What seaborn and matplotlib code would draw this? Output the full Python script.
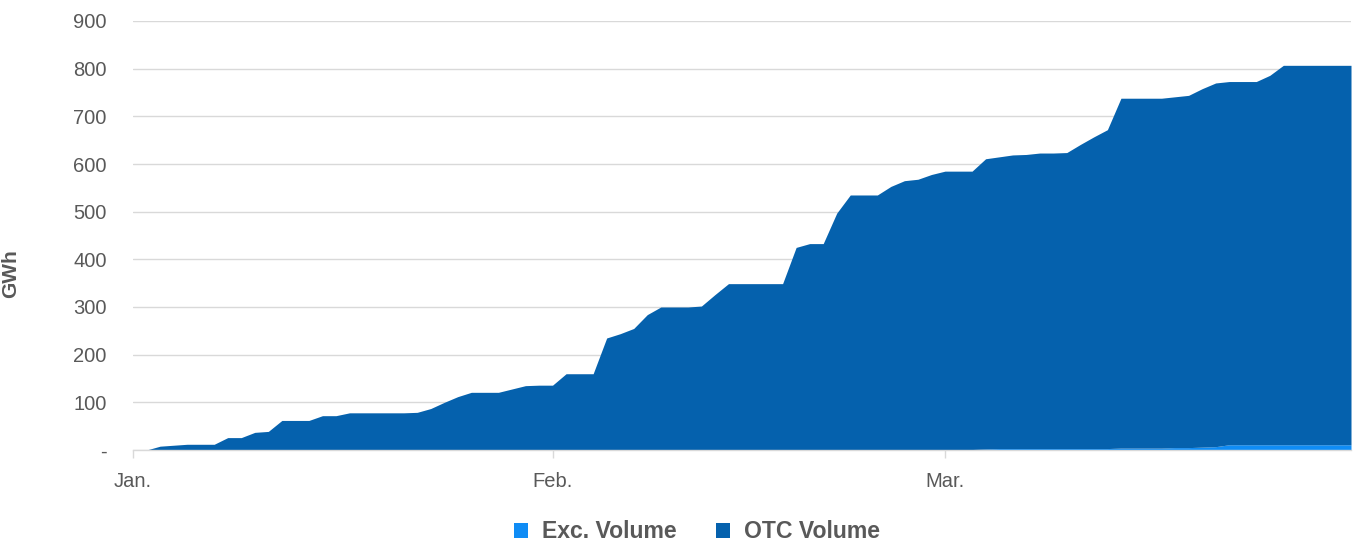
import numpy as np
import pandas as pd
import matplotlib
matplotlib.use("Agg")
import matplotlib.pyplot as plt
from matplotlib.patches import Patch
import seaborn as sns

# ---- data (daily cumulative volumes, GWh) ----
dates = pd.date_range("2024-01-01", "2024-03-31", freq="D")

exc_volume = [
    0, 0, 0, 0, 0, 0, 0, 0, 0, 0,
    0, 0, 0, 0, 0, 0, 0, 0, 0, 0,
    0, 0, 0, 0, 0, 0, 0, 0, 0, 0,
    0, 0, 0, 0, 0, 0, 0, 0, 0, 0,
    0, 0, 0, 0, 0, 0, 0, 0, 0, 0,
    0, 0, 0, 0, 0, 1, 1, 1, 1, 1,
    1, 1, 1, 2, 3, 3, 3, 3, 3, 3,
    3, 3, 3, 4, 4, 4, 4, 5, 5, 6,
    7, 11, 11, 11, 11, 11, 11, 11, 11, 11,
    11,
]

otc_volume = [
    0, 0, 8, 10, 12, 12, 12, 26, 26, 37,
    39, 62, 62, 62, 72, 72, 78, 78, 78, 78,
    78, 79, 87, 100, 112, 121, 121, 121, 128, 135,
    136, 136, 160, 160, 160, 235, 244, 255, 284, 300,
    300, 300, 302, 326, 349, 349, 349, 349, 349, 425,
    433, 433, 497, 535, 535, 534, 552, 564, 567, 577,
    584, 584, 584, 609, 612, 616, 617, 620, 620, 621,
    638, 654, 669, 734, 734, 734, 734, 736, 739, 752,
    763, 762, 762, 762, 775, 796, 796, 796, 796, 796,
    796,
]

series_names = ["Exc. Volume", "OTC Volume"]
series_colors = ["#0F8CF5", "#0561AD"]
y_ticks = [0, 100, 200, 300, 400, 500, 600, 700, 800, 900]
y_tick_labels = ["-", "100", "200", "300", "400", "500", "600", "700", "800", "900"]
month_ticks = pd.to_datetime(["2024-01-01", "2024-02-01", "2024-03-01"])
month_labels = ["Jan.", "Feb.", "Mar."]

# ---- style ----
sns.set_theme(style="white")
plt.rcParams["font.family"] = ["Liberation Sans", "DejaVu Sans"]
text_color = "#595959"
grid_color = "#D9D9D9"

fig = plt.figure(figsize=(13.62, 5.44), dpi=100)
ax = fig.add_axes([133 / 1362, 1 - 450 / 544, (1351 - 133) / 1362, (450 - 21) / 544])

df = pd.DataFrame({"date": dates, "exc": exc_volume, "otc": otc_volume})
df["total"] = df["exc"] + df["otc"]

ax.stackplot(df["date"], df["exc"], df["otc"], colors=series_colors, linewidth=0)
sns.lineplot(data=df, x="date", y="total", ax=ax, color=series_colors[1], linewidth=0.0)

ax.set_xlim(dates[0], dates[-1])
ax.set_ylim(0, 900)
ax.set_yticks(y_ticks)
ax.set_yticklabels(y_tick_labels)
ax.set_xticks(month_ticks)
ax.set_xticklabels(month_labels)

ax.yaxis.grid(True, color=grid_color, linewidth=1)
ax.xaxis.grid(False)
ax.set_axisbelow(True)
for s in ["top", "right", "left"]:
    ax.spines[s].set_visible(False)
ax.spines["bottom"].set_color(grid_color)
ax.spines["bottom"].set_linewidth(1)

ax.tick_params(axis="y", length=0, pad=19, labelsize=14.5, labelcolor=text_color)
ax.tick_params(axis="x", length=6, width=1, color=grid_color, pad=10,
               labelsize=14.5, labelcolor=text_color, bottom=True)

ax.set_xlabel("")
ax.set_ylabel("GWh", fontsize=15, fontweight="bold", color=text_color)
ax.yaxis.set_label_coords(-0.093, 0.41)

handles = [Patch(facecolor=c, edgecolor="none") for c in series_colors]
leg = fig.legend(handles, series_names, loc="center", bbox_to_anchor=(697 / 1362, 1 - 532 / 544),
                 ncol=2, frameon=False, handlelength=0.6, handleheight=0.6,
                 handletextpad=0.6, columnspacing=1.7,
                 prop={"size": 16.6, "weight": "bold"})
for t in leg.get_texts():
    t.set_color(text_color)

fig.savefig("out.png", dpi=100)
